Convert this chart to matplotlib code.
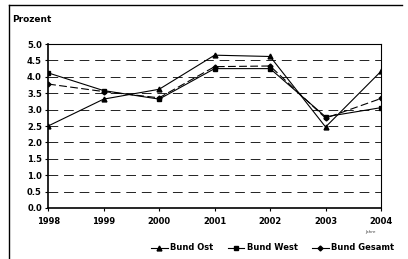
import matplotlib
matplotlib.use("Agg")
import matplotlib.pyplot as plt
from matplotlib.lines import Line2D

years = [1998, 1999, 2000, 2001, 2002, 2003, 2004]
ost = [2.50, 3.32, 3.62, 4.66, 4.62, 2.47, 4.17]
west = [4.12, 3.58, 3.32, 4.25, 4.25, 2.78, 3.06]
gesamt = [3.78, 3.55, 3.36, 4.31, 4.33, 2.74, 3.34]
yticks = [0.0, 0.5, 1.0, 1.5, 2.0, 2.5, 3.0, 3.5, 4.0, 4.5, 5.0]

fig = plt.figure(figsize=(4.08, 2.59), dpi=100)
ax = fig.add_axes([0.118, 0.197, 0.816, 0.633])

ax.plot(years, ost, color='black', lw=0.8, marker='^', ms=3.5, label='Bund Ost')
ax.plot(years, west, color='black', lw=0.8, marker='s', ms=3.5, label='Bund West')
ax.plot(years, gesamt, color='black', lw=0.8, ls=(0, (7, 3)), marker='D', ms=2.5, label='Bund Gesamt')

ax.set_xlim(1998, 2004)
ax.set_ylim(0, 5)
ax.set_yticks(yticks)
ax.set_yticklabels([f"{v:.1f}" for v in yticks], fontsize=6, fontweight='bold')
ax.set_xticks(years)
ax.set_xticklabels([str(y) for y in years], fontsize=6, fontweight='bold')
ax.tick_params(length=2.5, width=0.8, pad=4)
ax.tick_params(axis='y', pad=2)
ax.yaxis.grid(True, color='#222222', lw=0.7, ls=(0, (10, 6)))
for s in ax.spines.values():
    s.set_linewidth(0.8)
ax.spines['left'].set_linewidth(1.2)
ax.spines['bottom'].set_linewidth(1.2)

fig.text(12 / 408, 1 - 20 / 259, "Prozent", fontsize=6.5, fontweight='bold', va='center')
fig.text(370 / 408, 1 - 232 / 259, "Jahre", fontsize=3, va='center', ha='center', color='#444444')

handles = [Line2D([], [], color='black', lw=0.8, marker=m, ms=ms) for m, ms in [('^', 3.5), ('s', 3.5), ('D', 2.5)]]
fig.legend(handles, ['Bund Ost', 'Bund West', 'Bund Gesamt'], loc='center', bbox_to_anchor=(0.668, 1 - 248 / 259),
           ncol=3, frameon=False, handlelength=2.0, handletextpad=0.3, columnspacing=1.7,
           prop={'size': 6, 'weight': 'bold'})

# outer frame (left and top edges visible)
fig.add_artist(Line2D([9 / 408, 9 / 408], [0, 1 - 5 / 259], color='black', lw=1.0, transform=fig.transFigure))
fig.add_artist(Line2D([9 / 408, 402 / 408], [1 - 5 / 259, 1 - 5 / 259], color='black', lw=1.0, transform=fig.transFigure))

fig.savefig("out.png", dpi=100)
